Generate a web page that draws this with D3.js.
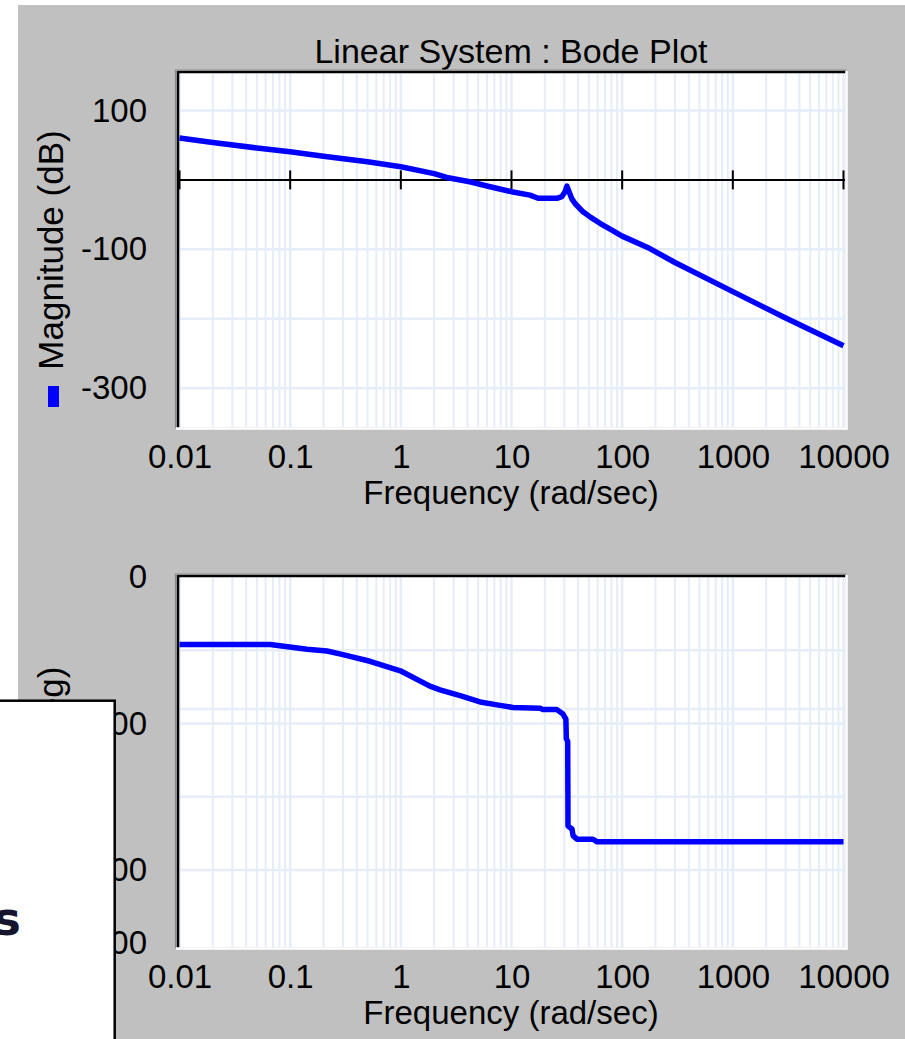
<!DOCTYPE html>
<html>
<head>
<meta charset="utf-8">
<script src="https://cdn.jsdelivr.net/npm/d3@7"></script>
<style>
  body { margin: 0; background: #fff; }
  svg { display: block; }
  text { font-family: "Liberation Sans", Arial, sans-serif; fill: #000; }
</style>
</head>
<body>
<div id="chart"></div>
<script>
// values
const magFreq = [0.01, 0.02, 0.05, 0.1, 0.2, 0.5, 1, 2, 2.6, 4.2, 6.4, 10, 14.7, 17.4, 22, 25.7, 28.5, 30.5, 31.7, 33.3, 35, 37.5, 44.3, 52, 63, 80, 100, 178, 300, 1000, 3000, 10000];
const magDb = [60.5, 54, 46, 40.4, 34, 26, 19, 9, 3.5, -2.7, -9.9, -17, -22, -26.5, -26.5, -26.5, -24, -17, -9, -18, -27, -34, -46, -54, -62.5, -72, -81, -99, -119, -161, -199, -239];

const phaseFreq = [0.01, 0.066, 0.142, 0.215, 0.3, 0.526, 0.99, 1.83, 2.26, 3.43, 5.2, 7.4, 10.3, 18.1, 19.2, 25.7, 29.2, 31, 31.3, 32.2, 32.4, 35.2, 36, 39.1, 54.5, 59.3, 10000];
const phaseDeg = [-92, -92, -98.5, -101, -106, -115, -128, -149, -154, -162, -170.5, -174.5, -178, -179, -181, -181, -187, -194, -221, -224, -340, -344, -353, -358, -358, -361.5, -361.5];

const freqTicks = [0.01, 0.1, 1, 10, 100, 1000, 10000];
const magTicks = [100, -100, -300];
const magGrid = [100, -100, -200, -300];
const phaseTicks = [0, -200, -400, -500];
const phaseGrid = [-100, -180, -200, -300, -400];

const width = 905, height = 1039;
const fontSize = 33;
const blue = "#0000ff";

const svg = d3.select("#chart").append("svg")
    .attr("width", width)
    .attr("height", height);

// gray panel
svg.append("rect")
    .attr("x", 18).attr("y", 5)
    .attr("width", width - 18).attr("height", height - 5)
    .attr("fill", "#c0c0c0");

const xScale = d3.scaleLog()
    .domain([0.01, 10000])
    .range([179.5, 843.5]);

// minor frequency grid 1..9 per decade
const freqGrid = [];
d3.range(-2, 4).forEach(e => {
    d3.range(1, 10).forEach(m => freqGrid.push(m * Math.pow(10, e)));
});
freqGrid.push(10000);

svg.append("text")
    .attr("x", 511).attr("y", 63)
    .attr("text-anchor", "middle")
    .style("font-size", "34px")
    .text("Linear System : Bode Plot");

function drawPanel(opt) {
    const left = 178, right = 845;
    const yScale = d3.scaleLinear().domain(opt.yDomain).range([opt.bottom, opt.top]);
    const g = svg.append("g");

    g.append("rect")
        .attr("x", left).attr("y", opt.top)
        .attr("width", right - left).attr("height", opt.bottom - opt.top)
        .attr("fill", "#fff");

    g.append("g").selectAll("line").data(freqGrid).enter()
        .append("line")
        .attr("x1", d => xScale(d)).attr("x2", d => xScale(d))
        .attr("y1", opt.top).attr("y2", opt.bottom)
        .attr("stroke", "#e5edf8")
        .attr("stroke-width", d => freqTicks.includes(d) ? 2.5 : 2);

    g.append("g").selectAll("line").data(opt.grid).enter()
        .append("line")
        .attr("x1", left).attr("x2", right)
        .attr("y1", d => yScale(d)).attr("y2", d => yScale(d))
        .attr("stroke", "#e5edf8")
        .attr("stroke-width", 2.5);

    if (opt.zeroLine) {
        const y0 = yScale(0);
        g.append("line")
            .attr("x1", left).attr("x2", right)
            .attr("y1", y0).attr("y2", y0)
            .attr("stroke", "#000").attr("stroke-width", 2);
        g.append("g").selectAll("line").data(freqTicks).enter()
            .append("line")
            .attr("x1", d => xScale(d)).attr("x2", d => xScale(d))
            .attr("y1", y0 - 9.5).attr("y2", y0 + 9.5)
            .attr("stroke", "#000").attr("stroke-width", 2);
    }

    // sunken frame
    g.append("path")
        .attr("d", `M${left},${opt.bottom + 1}V${opt.top - 1}H${right + 1}`)
        .attr("fill", "none").attr("stroke", "#000").attr("stroke-width", 2.5);
    g.append("path")
        .attr("d", `M${left - 2.5},${opt.bottom + 1}V${opt.top - 3}H${right + 1}`)
        .attr("fill", "none").attr("stroke", "#8a8a8a").attr("stroke-width", 1.2);
    g.append("path")
        .attr("d", `M${left - 2},${opt.bottom + 1.5}H${right + 1.5}V${opt.top - 2}`)
        .attr("fill", "none").attr("stroke", "#fff").attr("stroke-width", 2.5);

    const clipId = "clip" + opt.top;
    svg.append("clipPath").attr("id", clipId)
        .append("rect")
        .attr("x", left).attr("y", opt.top)
        .attr("width", right - left).attr("height", opt.bottom - opt.top);

    const data = opt.freq.map((f, i) => ({ f: f, v: opt.values[i] }));
    const line = d3.line()
        .x(d => xScale(d.f))
        .y(d => yScale(d.v));
    g.append("path")
        .datum(data)
        .attr("clip-path", `url(#${clipId})`)
        .attr("d", line)
        .attr("fill", "none")
        .attr("stroke", blue)
        .attr("stroke-width", 5.5)
        .attr("stroke-linejoin", "round");

    const xAxis = d3.axisBottom(xScale)
        .tickValues(freqTicks)
        .tickFormat(d => String(d))
        .tickSize(0)
        .tickPadding(17.5);
    const xAxisG = g.append("g")
        .attr("transform", `translate(0,${opt.bottom})`)
        .call(xAxis);
    xAxisG.select(".domain").remove();
    xAxisG.selectAll("text")
        .style("font-size", fontSize + "px")
        .style("font-family", '"Liberation Sans", Arial, sans-serif')
        .attr("fill", "#000");

    const yAxis = d3.axisLeft(yScale)
        .tickValues(opt.ticks)
        .tickFormat(d => String(d))
        .tickSize(0)
        .tickPadding(31);
    const yAxisG = g.append("g")
        .attr("transform", `translate(${left},0)`)
        .call(yAxis);
    yAxisG.select(".domain").remove();
    yAxisG.selectAll("text")
        .style("font-size", fontSize + "px")
        .style("font-family", '"Liberation Sans", Arial, sans-serif')
        .attr("fill", "#000");

    g.append("text")
        .attr("x", 511).attr("y", opt.bottom + 77)
        .attr("text-anchor", "middle")
        .style("font-size", fontSize + "px")
        .text("Frequency (rad/sec)");

    const cy = (opt.top + opt.bottom) / 2;
    g.append("text")
        .attr("transform", `translate(63,${cy}) rotate(-90)`)
        .attr("text-anchor", "middle")
        .style("font-size", "35px")
        .text(opt.label);

    g.append("rect")
        .attr("x", 48).attr("y", cy + 136)
        .attr("width", 11).attr("height", 21)
        .attr("fill", blue);
}

drawPanel({
    top: 73, bottom: 427,
    yDomain: [-356, 154],
    grid: magGrid, ticks: magTicks,
    freq: magFreq, values: magDb,
    zeroLine: true,
    label: "Magnitude (dB)"
});

drawPanel({
    top: 577, bottom: 947,
    yDomain: [-505, 0],
    grid: phaseGrid, ticks: phaseTicks,
    freq: phaseFreq, values: phaseDeg,
    zeroLine: false,
    label: "Phase (deg)"
});

// window lying over the lower left corner
const blur = svg.append("defs").append("filter").attr("id", "soft");
blur.append("feGaussianBlur").attr("stdDeviation", 0.8);

const over = svg.append("g");
over.append("rect")
    .attr("x", -2).attr("y", 700.7)
    .attr("width", 116.7).attr("height", 345)
    .attr("fill", "#fff")
    .attr("stroke", "#000")
    .attr("stroke-width", 2.5);
over.append("line")
    .attr("x1", -2).attr("x2", 46)
    .attr("y1", 836).attr("y2", 836)
    .attr("stroke", "#a8a8a8")
    .attr("stroke-width", 3)
    .attr("filter", "url(#soft)");
over.append("text")
    .attr("x", 21).attr("y", 935)
    .attr("text-anchor", "end")
    .style("font-family", '"DejaVu Sans", sans-serif')
    .style("font-weight", "bold")
    .style("font-size", "46px")
    .style("fill", "#15152e")
    .text("s");
</script>
</body>
</html>
